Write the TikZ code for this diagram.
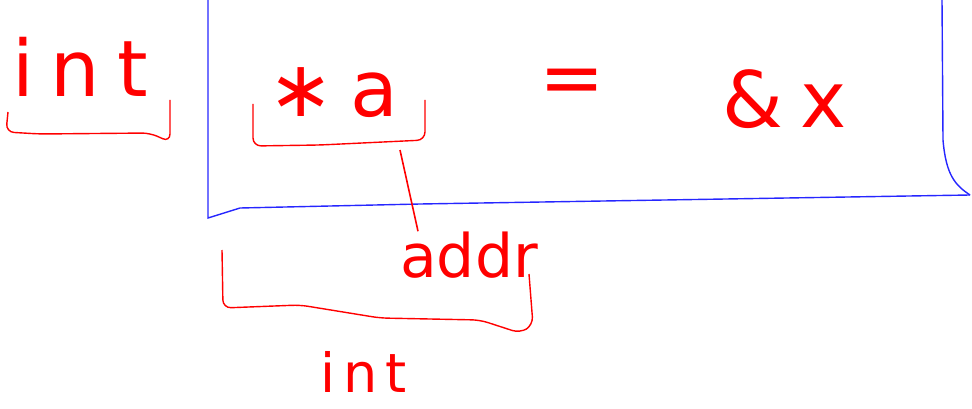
\documentclass[tikz,border=0pt]{standalone}
\usepackage{fontspec}
\setmainfont{DejaVu Sans}
\usetikzlibrary{positioning}

\begin{document}
\begin{tikzpicture}[x=1pt, y=-1pt,
  word/.style={text=red, font=\fontsize{78}{78}\selectfont\addfontfeatures{LetterSpace=22}, inner sep=0pt},
  note/.style={text=red, font=\fontsize{60}{60}\selectfont, inner sep=0pt},
  bracket/.style={draw=red, line width=1.4pt, rounded corners=8pt},
  frame/.style={draw=blue!85!white, line width=1.4pt}
]
\useasboundingbox (0,0) rectangle (972,409);

% the open box round the statement
\draw[frame] (208,0) -- (208,218) -- (240,208) -- (420,204) -- (970,195);
\draw[frame] (942,0) -- (943,140) .. controls (946,175) and (955,185) .. (970,195);

\node[word, anchor=base west] (tint) at (12,97) {int};
\node[word, anchor=base west] (ptr) at (268,117) {∗a};
\node[word, anchor=base] (eq) at (572,105) {=};
\node[word, anchor=base west] (ref) at (722,128) {\&x};
\node[note, anchor=base west] (addr) at (400,277) {addr};
\node[note, anchor=base west, font=\fontsize{54}{54}\selectfont\addfontfeatures{LetterSpace=15}] (bint) at (320,392) {int};

% braces under the parts
\draw[bracket] (8,112) -- (6,132) -- (40,134) -- (150,133) -- (170,142) -- (170,100);
\draw[bracket] (253,104) -- (253,146) -- (320,145) -- (425,140) -- (425,100);
\draw[bracket] (222,250) -- (223,308) -- (300,305) -- (380,318) -- (480,320) -- (520,333) -- (533,325) -- (529,274);

\coordinate (mid) at (400,150);
\draw[red, line width=1.6pt] (mid) -- (addr.north west -| 418,208);
\end{tikzpicture}
\end{document}
